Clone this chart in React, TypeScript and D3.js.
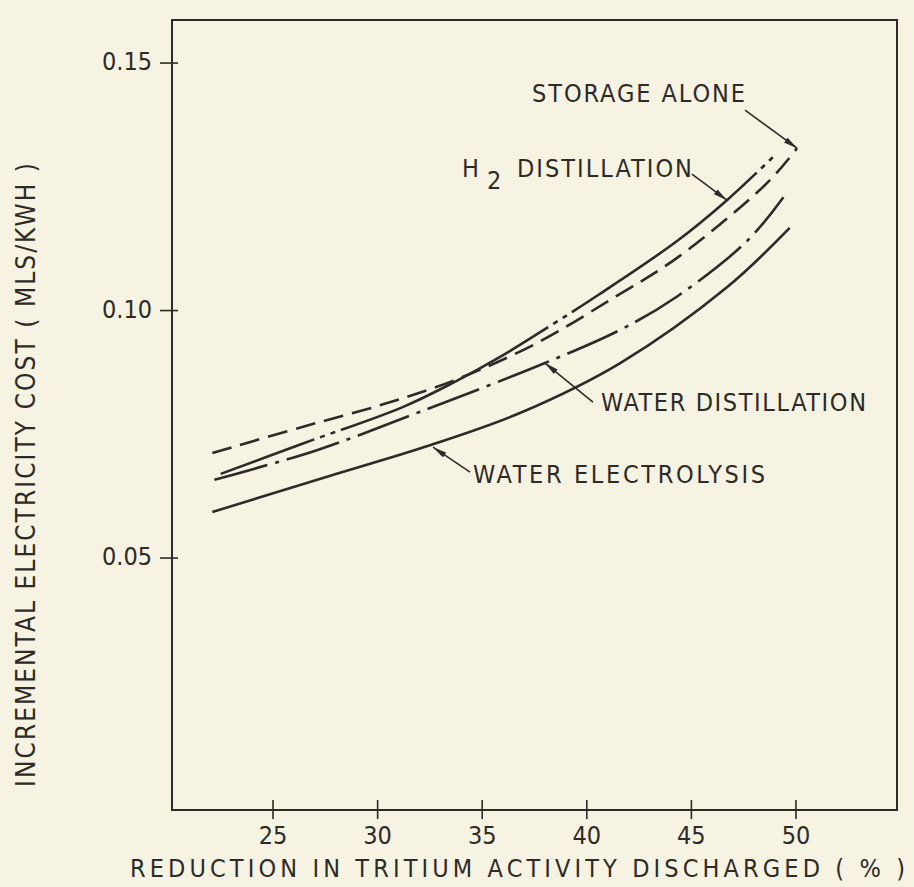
import * as d3 from 'd3'
import { FC, useMemo } from 'react'

const WIDTH = 914
const HEIGHT = 887
const MARGIN = { top: 20, right: 17, bottom: 77, left: 172 }
const X_DOMAIN = [20.17, 54.83]
const Y_DOMAIN = [-0.0009, 0.1587]
const BG = '#f7f3e2'
const INK = '#2d2b28'
const FONT = "'DejaVu Sans Condensed', 'Liberation Sans Narrow', 'DejaVu Sans', sans-serif"

const X_TICKS = [25, 30, 35, 40, 45, 50]
const Y_TICKS = [0.05, 0.1, 0.15]

// values
const H2_X = [22.5, 26.4, 31.2, 33.6, 36.0, 38.4, 40.6, 44.3, 46.7, 48.9]
const H2_Y = [0.067, 0.0731, 0.0805, 0.0854, 0.091, 0.0973, 0.1033, 0.114, 0.1223, 0.131]

const STORAGE_X = [22.1, 26.4, 30.3, 33.6, 37.6, 41.25, 44.3, 48.1, 49.2, 50.05]
const STORAGE_Y = [0.0712, 0.0765, 0.0811, 0.0858, 0.0934, 0.1025, 0.1106, 0.1237, 0.1284, 0.1328]

const WATER_DIST_X = [22.2, 27.1, 32.0, 38.0, 41.6, 44.3, 47.7, 49.4]
const WATER_DIST_Y = [0.0658, 0.0718, 0.0795, 0.0894, 0.0961, 0.1028, 0.1142, 0.1229]

const ELECTRO_X = [22.1, 27.7, 32.5, 36.8, 41.6, 46.7, 49.7]
const ELECTRO_Y = [0.0593, 0.0666, 0.0728, 0.0793, 0.0894, 0.1047, 0.1167]

const SERIES = [
  { key: 'h2', xs: H2_X, ys: H2_Y, dash: '232,6,5,6,5,6', offset: 132 },
  { key: 'storage', xs: STORAGE_X, ys: STORAGE_Y, dash: '20,9', offset: 0 },
  { key: 'waterDist', xs: WATER_DIST_X, ys: WATER_DIST_Y, dash: '55,8,4,8', offset: 0 },
  { key: 'electro', xs: ELECTRO_X, ys: ELECTRO_Y, dash: 'none', offset: 0 },
]

// arrow tips (data units) for the labels
const NOTES = [
  { label: 'STORAGE ALONE', tip: [50.05, 0.1328], text: [-265, -53], from: [-52, -38], len: 213 },
  { label: 'WATER  DISTILLATION', tip: [38.0, 0.0894], text: [56, 41], from: [48, 39], len: 265 },
  { label: 'WATER  ELECTROLYSIS', tip: [32.65, 0.0724], text: [40, 29], from: [37, 25], len: 292 },
]
const H2_TIP = [46.7, 0.1223]


const App: FC = () => {
  const xScale = useMemo(
    () => d3.scaleLinear().domain(X_DOMAIN).range([MARGIN.left, WIDTH - MARGIN.right]),
    []
  )
  const yScale = useMemo(
    () => d3.scaleLinear().domain(Y_DOMAIN).range([HEIGHT - MARGIN.bottom, MARGIN.top]),
    []
  )

  const line = d3
    .line<[number, number]>()
    .x((d) => xScale(d[0]))
    .y((d) => yScale(d[1]))
    .curve(d3.curveCatmullRom.alpha(0.5))

  const left = MARGIN.left
  const right = WIDTH - MARGIN.right
  const top = MARGIN.top
  const bottom = HEIGHT - MARGIN.bottom

  const h2x = xScale(H2_TIP[0])
  const h2y = yScale(H2_TIP[1])

  return (
    <div style={{ position: 'fixed', left: 0, top: 0, width: WIDTH, height: HEIGHT, background: BG }}>
      <svg width={WIDTH} height={HEIGHT} style={{ display: 'block' }} fontFamily={FONT}>
        <defs>
          <marker id='arr' viewBox='0 0 14 6' refX='14' refY='3' markerWidth='14' markerHeight='6'
            markerUnits='userSpaceOnUse' orient='auto'>
            <path d='M0,0 L14,3 L0,6 Z' fill={INK} />
          </marker>
        </defs>
        <rect width={WIDTH} height={HEIGHT} fill={BG} />

        {/* frame */}
        <rect x={left} y={top} width={right - left} height={bottom - top}
          fill='none' stroke={INK} strokeWidth={2} />

        {/* x ticks */}
        {X_TICKS.map((t) => (
          <g key={t}>
            <line x1={xScale(t)} x2={xScale(t)} y1={bottom - 10} y2={bottom + 9} stroke={INK} strokeWidth={1.6} />
            <text x={xScale(t)} y={bottom + 27} textAnchor='middle' dominantBaseline='middle'
              fontSize={25} fill={INK}>{t}</text>
          </g>
        ))}

        {/* y ticks */}
        {Y_TICKS.map((t) => (
          <g key={t}>
            <line x1={left - 12} x2={left + 6} y1={yScale(t)} y2={yScale(t)} stroke={INK} strokeWidth={1.6} />
            <text x={left - 20} y={yScale(t)} textAnchor='end' dominantBaseline='middle'
              fontSize={25} fill={INK}>{d3.format('.2f')(t)}</text>
          </g>
        ))}

        {/* curves */}
        {SERIES.map((s) => (
          <path key={s.key}
            d={line(s.xs.map((x, i) => [x, s.ys[i]] as [number, number])) as string}
            fill='none' stroke={INK} strokeWidth={2.6}
            strokeDasharray={s.dash} strokeDashoffset={s.offset} />
        ))}

        {/* labels */}
        {NOTES.map((n) => {
          const tx = xScale(n.tip[0])
          const ty = yScale(n.tip[1])
          return (
            <g key={n.label}>
              <line x1={tx + n.from[0]} y1={ty + n.from[1]} x2={tx} y2={ty}
                stroke={INK} strokeWidth={1.6} markerEnd='url(#arr)' />
              <text x={tx + n.text[0]} y={ty + n.text[1]} dominantBaseline='middle'
                fontSize={25} fill={INK} textLength={n.len} lengthAdjust='spacing'>{n.label}</text>
            </g>
          )
        })}

        <g>
          <line x1={h2x - 35} y1={h2y - 26} x2={h2x} y2={h2y}
            stroke={INK} strokeWidth={1.6} markerEnd='url(#arr)' />
          <text x={h2x - 265} y={h2y - 30} dominantBaseline='middle' fontSize={25} fill={INK}>H</text>
          <text x={h2x - 240} y={h2y - 18} dominantBaseline='middle' fontSize={25} fill={INK}>2</text>
          <text x={h2x - 210} y={h2y - 30} dominantBaseline='middle' fontSize={25} fill={INK}
            textLength={175} lengthAdjust='spacing'>DISTILLATION</text>
        </g>

        {/* axis titles */}
        <text x={(130 + 905) / 2} y={870} textAnchor='middle' dominantBaseline='middle'
          fontSize={25} fill={INK} textLength={775} lengthAdjust='spacing'>
          REDUCTION  IN  TRITIUM  ACTIVITY  DISCHARGED ( % )
        </text>
        <text transform='translate(27,475) rotate(-90)' textAnchor='middle' dominantBaseline='middle'
          fontSize={26} fill={INK} textLength={624} lengthAdjust='spacing'>
          INCREMENTAL  ELECTRICITY  COST  ( MLS/KWH )
        </text>
      </svg>
    </div>
  )
}

export default App
